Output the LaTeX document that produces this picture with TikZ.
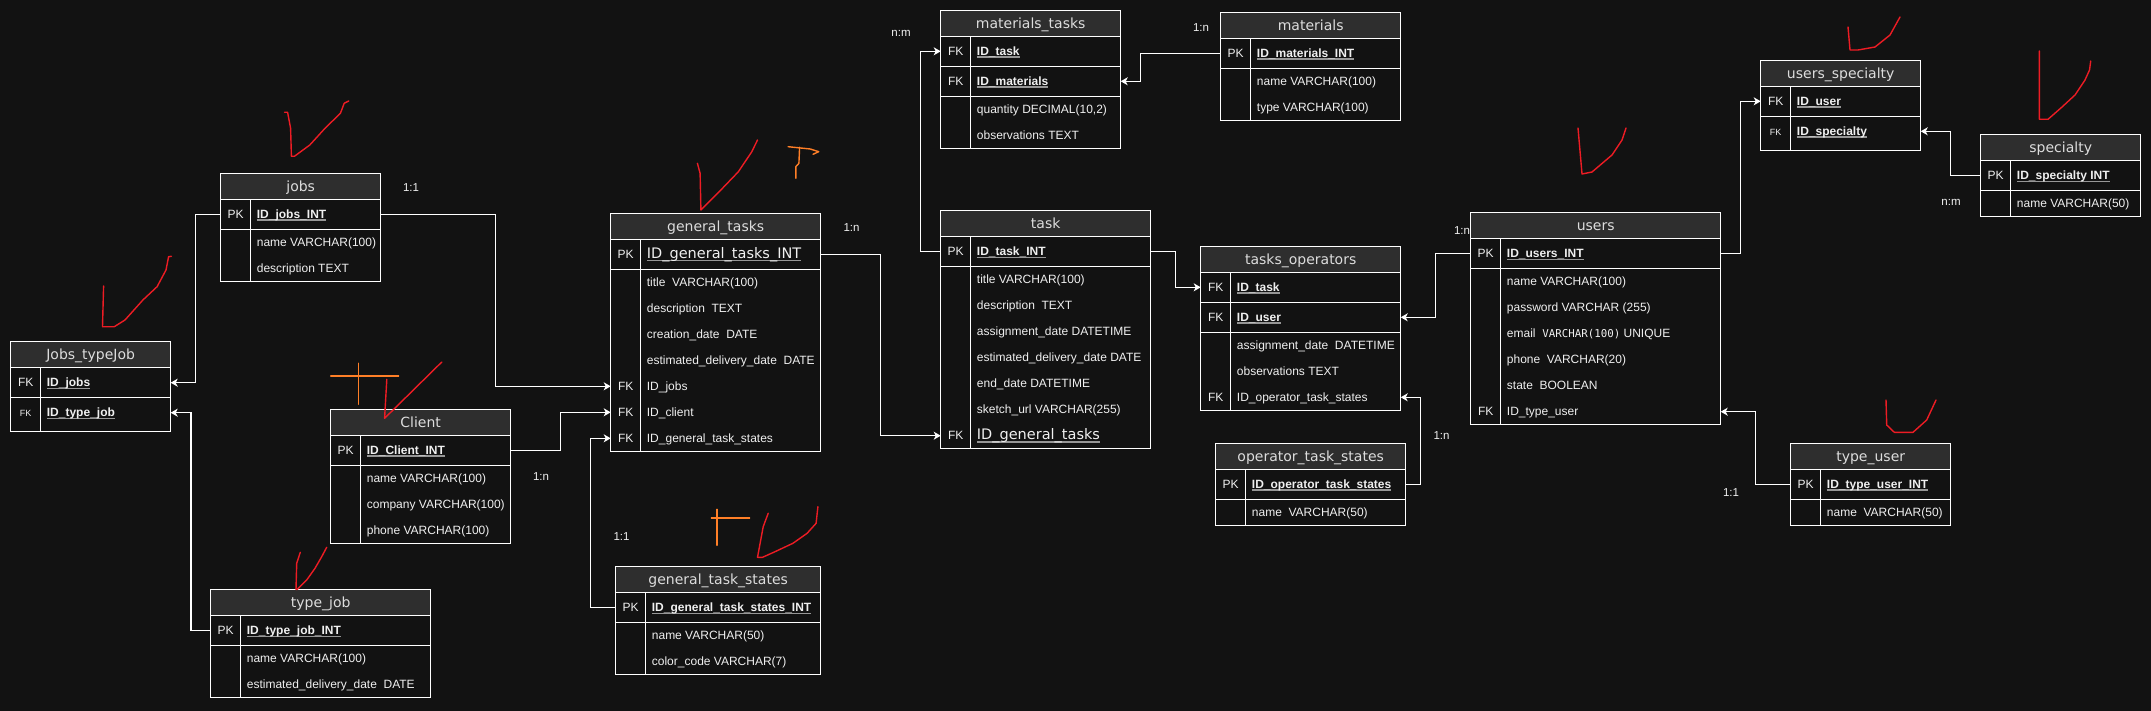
\documentclass[tikz,border=0pt]{standalone}
\usepackage{fontspec}
\setmainfont{Liberation Sans}
\newfontfamily\headfont{DejaVu Sans}
\newfontfamily\monofont{DejaVu Sans Mono}
\usetikzlibrary{arrows.meta, calc}
\definecolor{erBack}{RGB}{18,18,18}
\definecolor{erHead}{RGB}{46,46,46}
\definecolor{erText}{RGB}{240,240,240}
\definecolor{erUnder}{RGB}{150,150,150}
\definecolor{markRed}{RGB}{237,28,36}
\definecolor{markOrange}{RGB}{255,127,39}

\newsavebox\keybox
\newcommand{\keyfield}[1]{\sbox\keybox{\bfseries #1}\rlap{\textcolor{erUnder}{\rule[-2.4pt]{\wd\keybox}{1.5pt}}}\usebox\keybox}
\newcommand{\bigkey}[1]{\sbox\keybox{\headfont\fontsize{14.5}{17}\selectfont #1}\rlap{\textcolor{erUnder}{\rule[-2.8pt]{\wd\keybox}{1.5pt}}}\usebox\keybox}
\newcommand{\smallfk}{{\fontsize{9}{11}\selectfont FK}}
\newcommand{\monotype}[1]{{\monofont\fontsize{10.8}{12}\selectfont #1}}

\tikzset{
  tabline/.style={draw=white, line width=1.3pt},
  tabhead/.style={draw=white, line width=1.3pt, fill=erHead, inner sep=0pt, outer sep=0pt,
    minimum height=26pt, text=erText!92!black, font=\headfont\fontsize{14}{17}\selectfont,
    text height=13pt, text depth=3.3pt},
  keyrow/.style={inner sep=0pt, outer sep=0pt, minimum height=30pt, anchor=north west},
  fieldrow/.style={inner sep=0pt, outer sep=0pt, minimum height=26pt, anchor=north west},
  keylabel/.style={inner sep=0pt, text=erText, font=\fontsize{12}{14}\selectfont,
    text height=10.9pt, text depth=2.5pt},
  fieldtext/.style={keylabel, anchor=west},
  conn/.style={draw=white, line width=1.3pt, -{Stealth[length=7pt, width=8pt, inset=2pt]}},
  cardlabel/.style={inner sep=0pt, text=erText, font=\fontsize{11.5}{13}\selectfont},
  annot/.style={draw=markRed, line width=1.4pt, line join=round, line cap=round}
}

% table: name, top left, width, title, key rows, plain rows
\newcommand{\ertable}[6]{%
  \node[tabhead, minimum width=#3, anchor=north west] (#1) at (#2) {#4};
  \gdef\nkeys{0}\gdef\nfields{0}%
  \foreach \rowkey/\rowtext [count=\rowno] in {#5} {%
    \node[keyrow, minimum width=#3] (#1-k\rowno) at ($(#1.south west)+(0,{30*(\rowno-1)})$) {};
    \node[keylabel] (#1-k\rowno-l) at ($(#1-k\rowno.west)+(15,0)$) {\rowkey};
    \node[fieldtext] (#1-k\rowno-t) at ($(#1-k\rowno.west)+(36,0)$) {\rowtext};
    \ifnum\rowno>1 \draw[tabline] (#1-k\rowno.north west) -- (#1-k\rowno.north east); \fi
    \xdef\nkeys{\rowno}%
  }
  \def\fieldlist{#6}%
  \ifx\fieldlist\empty\else
    \foreach \rowkey/\rowtext [count=\rowno] in {#6} {%
      \node[fieldrow, minimum width=#3] (#1-f\rowno) at ($(#1.south west)+(0,{30*\nkeys+26*(\rowno-1)})$) {};
      \node[keylabel] (#1-f\rowno-l) at ($(#1-f\rowno.west)+(15,0)$) {\rowkey};
      \node[fieldtext] (#1-f\rowno-t) at ($(#1-f\rowno.west)+(36,0)$) {\rowtext};
      \xdef\nfields{\rowno}%
    }
    \draw[tabline] (#1-f1.north west) -- (#1-f1.north east);
  \fi
  \pgfmathsetmacro\tabh{30*\nkeys+26*\nfields+4*(\nfields==0)}
  \draw[tabline] (#1.north west) rectangle ($(#1.south east)+(0,\tabh)$);
  \draw[tabline] ($(#1.south west)+(30,0)$) -- ($(#1.south west)+(30,\tabh)$);
}

\begin{document}
\begin{tikzpicture}[x=1pt, y=-1pt]
  \fill[erBack] (0,0) rectangle (2151,711);
  \useasboundingbox (0,0) rectangle (2151,711);

  % Jobs side
  \ertable{jobs}{220.7,173.3}{160}{jobs}
    {PK/\keyfield{ID\_jobs\_INT}}
    {/name VARCHAR(100), /description TEXT}
  \ertable{jtj}{10.7,341.7}{160}{Jobs\_typeJob}
    {FK/\keyfield{ID\_jobs}, \smallfk/\keyfield{ID\_type\_job}}
    {}
  \ertable{client}{330.7,409.3}{180}{Client}
    {PK/\keyfield{ID\_Client\_INT}}
    {/name VARCHAR(100), /company VARCHAR(100), /phone VARCHAR(100)}
  \ertable{tjob}{210.7,589.7}{220}{type\_job}
    {PK/\keyfield{ID\_type\_job\_INT}}
    {/name VARCHAR(100), /estimated\_delivery\_date\ \ DATE}

  % General tasks
  \ertable{gt}{610.7,213.3}{210}{general\_tasks}
    {PK/\bigkey{ID\_general\_tasks\_INT}}
    {/title\ \ VARCHAR(100), /description\ \ TEXT, /creation\_date\ \ DATE,
     /estimated\_delivery\_date\ \ DATE, FK/ID\_jobs, FK/ID\_client, FK/ID\_general\_task\_states}
  \ertable{gts}{615.7,566.7}{205}{general\_task\_states}
    {PK/\keyfield{ID\_general\_task\_states\_INT}}
    {/name VARCHAR(50), /color\_code VARCHAR(7)}

  % Tasks and materials
  \ertable{task}{940.7,210.7}{210}{task}
    {PK/\keyfield{ID\_task\_INT}}
    {/title VARCHAR(100), /description\ \ TEXT, /assignment\_date DATETIME,
     /estimated\_delivery\_date DATE, /end\_date DATETIME, /sketch\_url VARCHAR(255),
     FK/\bigkey{ID\_general\_tasks}}
  \ertable{mt}{940.7,10.3}{180}{materials\_tasks}
    {FK/\keyfield{ID\_task}, FK/\keyfield{ID\_materials}}
    {/{quantity DECIMAL(10,2)}, /observations TEXT}
  \ertable{mat}{1220.7,12.3}{180}{materials}
    {PK/\keyfield{ID\_materials\_INT}}
    {/name VARCHAR(100), /type VARCHAR(100)}
  \ertable{tops}{1200.7,246.3}{200}{tasks\_operators}
    {FK/\keyfield{ID\_task}, FK/\keyfield{ID\_user}}
    {/assignment\_date\ \ DATETIME, /observations TEXT, FK/ID\_operator\_task\_states}
  \ertable{ots}{1215.7,443.3}{190}{operator\_task\_states}
    {PK/\keyfield{ID\_operator\_task\_states}}
    {/name\ \ VARCHAR(50)}

  % Users
  \ertable{users}{1470.7,212.7}{250}{users}
    {PK/\keyfield{ID\_users\_INT}}
    {/name VARCHAR(100), /password VARCHAR (255), /email\ \ \monotype{VARCHAR(100)} UNIQUE,
     /phone\ \ VARCHAR(20), /state\ \ BOOLEAN, FK/ID\_type\_user}
  \ertable{us}{1760.7,60.3}{160}{users\_specialty}
    {FK/\keyfield{ID\_user}, \smallfk/\keyfield{ID\_specialty}}
    {}
  \ertable{spec}{1980.7,134.7}{160}{specialty}
    {PK/\keyfield{ID\_specialty INT}}
    {/name VARCHAR(50)}
  \ertable{tuser}{1790.7,443.3}{160}{type\_user}
    {PK/\keyfield{ID\_type\_user\_INT}}
    {/name\ \ VARCHAR(50)}

  % Relations
  \draw[conn] (jobs-k1.west) -- ++(-25,0) |- (jtj-k1.east);
  \draw[conn] (tjob-k1.west) -- ++(-19.7,0) |- (jtj-k2.east);
  \draw[conn] (jobs-k1.east) -- ++(115,0) |- (gt-f5.west);
  \draw[conn] (client-k1.east) -- ++(50,0) |- (gt-f6.west);
  \draw[conn] (gts-k1.west) -- ++(-25.3,0) |- (gt-f7.west);
  \draw[conn] (gt-k1.east) -- ++(60,0) |- (task-f7.west);
  \draw[conn] (task-k1.west) -- ++(-20,0) |- (mt-k1.west);
  \draw[conn] (mat-k1.west) -- ++(-80,0) |- (mt-k2.east);
  \draw[conn] (task-k1.east) -- ++(25,0) |- (tops-k1.west);
  \draw[conn] (users-k1.west) -- ++(-35,0) |- (tops-k2.east);
  \draw[conn] (ots-k1.east) -- ++(15,0) |- (tops-f3.east);
  \draw[conn] (users-k1.east) -- ++(20,0) |- (us-k1.west);
  \draw[conn] (spec-k1.west) -- ++(-30,0) |- (us-k2.east);
  \draw[conn] (tuser-k1.west) -- ++(-35,0) |- (users-f6.east);

  % Cardinalities
  \node[cardlabel] (card-jobs) at (411,188) {1:1};
  \node[cardlabel] (card-client) at (541,477) {1:n};
  \node[cardlabel] (card-gts) at (621.5,537) {1:1};
  \node[cardlabel] (card-gt) at (851.5,228) {1:n};
  \node[cardlabel] (card-mt) at (901,33) {n:m};
  \node[cardlabel] (card-mat) at (1201,28) {1:n};
  \node[cardlabel] (card-users) at (1462,231) {1:n};
  \node[cardlabel] (card-ots) at (1441.5,436) {1:n};
  \node[cardlabel] (card-spec) at (1951,202) {n:m};
  \node[cardlabel] (card-tuser) at (1731,493) {1:1};

  % Hand marks
  \draw[annot] (284.5,112.3) -- (287.6,112.3) -- (290.6,128.3) -- (291.4,156.3) -- (294.4,156.3)
    -- (309.8,145) -- (325,128.3) -- (340.4,113.3) -- (344.2,103.3) -- (348.8,101);
  \draw[annot] (103.6,286) -- (102.5,326.7) -- (114.3,326.7) -- (125,320) -- (142.9,300)
    -- (157.1,286.7) -- (166,270) -- (168.6,256.7) -- (171.4,256.3);
  \draw[annot, draw=markOrange] (330.7,376) -- (398.6,376);
  \draw[annot, draw=markOrange] (358.2,363.3) -- (358.2,404.3);
  \draw[annot] (386.8,379.3) -- (384.6,418.3) -- (441.8,362);
  \draw[annot] (300.3,552.3) -- (296.7,563.3) -- (296,589.3) -- (297.3,589.3) -- (306.7,580)
    -- (315,568.3) -- (321.7,556.7) -- (326.7,547.3);
  \draw[annot] (697.4,163.3) -- (700.1,173.3) -- (700.9,210) -- (719.2,191.7) -- (738.4,171.7)
    -- (751.8,151.7) -- (757.5,140);
  \draw[annot, draw=markOrange] (788.1,146.7) -- (810.3,149) -- (818.7,151.7) -- (813,154.3);
  \draw[annot, draw=markOrange] (799.6,147.3) -- (798.9,163.3) -- (795.8,166.7) -- (795.8,178.3);
  \draw[annot, draw=markOrange] (711.4,518) -- (749.6,518);
  \draw[annot, draw=markOrange] (717,509.3) -- (717,545.3);
  \draw[annot] (768.2,513.3) -- (763.2,526.7) -- (757.5,557.3) -- (762.5,557.3) -- (775,551.7)
    -- (792.9,543.3) -- (807.1,533.3) -- (816.1,523.3) -- (817.9,506.7);
  \draw[annot] (1578,128) -- (1582,174) -- (1592,172) -- (1612,155) -- (1622,140) -- (1626,128);
  \draw[annot] (1848,27) -- (1850,50) -- (1858,50) -- (1875,47) -- (1890,35) -- (1900,17);
  \draw[annot] (2039.3,51) -- (2039.3,119.3) -- (2048,119.3) -- (2062,107) -- (2075,95)
    -- (2085,80) -- (2089.5,70) -- (2090.7,61);
  \draw[annot] (1886,400) -- (1886.7,425) -- (1894.3,432.3) -- (1913,432.3) -- (1926.7,420)
    -- (1936,400);
\end{tikzpicture}
\end{document}
